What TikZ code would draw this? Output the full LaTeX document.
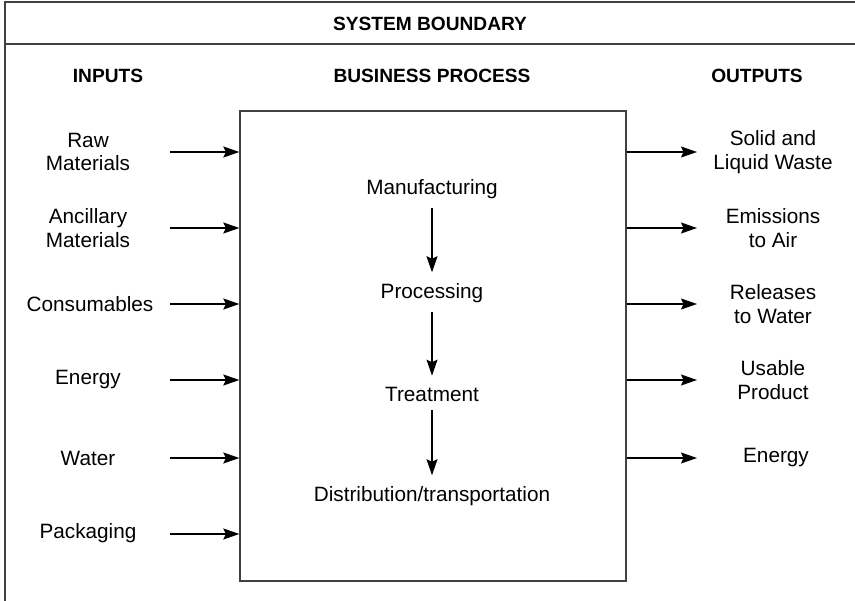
\documentclass[tikz,border=0pt]{standalone}
\usepackage{fontspec}
\setmainfont{Liberation Sans}
\usetikzlibrary{arrows.meta}

\begin{document}
\begin{tikzpicture}[x=0.02cm, y=-0.02cm,
  txt/.style={font=\fontsize{11.8}{13.4}\selectfont, align=center, inner sep=1pt},
  head/.style={font=\fontsize{10.9}{13}\selectfont\bfseries, inner sep=1pt},
  flow/.style={-{Stealth[length=3.2mm, width=2.2mm, inset=0.5mm]}, line width=0.8pt},
  step flow/.style={flow, shorten <=1.4mm, shorten >=1.8mm},
  edge/.style={line width=0.8pt, draw=black!75}]

  \useasboundingbox (0,0) rectangle (855,601);

  % --- Rahmen (Systemgrenze) ---
  \draw[edge] (855,2) -- (5,2) -- (5,601);
  \draw[edge] (5,44) -- (855,44);

  % --- Ueberschriften ---
  \node[head] (sysb) at (430,24) {SYSTEM BOUNDARY};
  \node[head] (hin)  at (108,76) {INPUTS};
  \node[head] (hbp)  at (432,76) {BUSINESS PROCESS};
  \node[head] (hout) at (757,76) {OUTPUTS};

  % --- Prozesskasten: x 240..626, y 111..581 ---
  \node[edge, draw, minimum width=7.72cm, minimum height=9.4cm] (proc) at (433,346) {};

  % --- Prozessschritte ---
  \node[txt] (mfg)  at (432,189) {Manufacturing};
  \node[txt] (prc)  at (432,293) {Processing};
  \node[txt] (trt)  at (432,394) {Treatment};
  \node[txt] (dist) at (432,496) {Distribution/transportation};
  \draw[step flow] (mfg.south) -- (prc.north);
  \draw[step flow] (prc.south) -- (trt.north);
  \draw[step flow] (trt.south) -- (dist.north);

  % --- Inputs ---
  \node[txt] (raw)  at (88,152) {Raw\\Materials};
  \node[txt] (anc)  at (88,228) {Ancillary\\Materials};
  \node[txt] (cons) at (90,304) {Consumables};
  \node[txt] (ein)  at (88,380) {Energy};
  \node[txt] (wat)  at (88,458) {Water};
  \node[txt] (pack) at (88,533) {Packaging};
  % Pfeile in den Kasten
  \coordinate (i1) at (170,152);
  \coordinate (i2) at (170,228);
  \coordinate (i3) at (170,304);
  \coordinate (i4) at (170,380);
  \coordinate (i5) at (170,458);
  \coordinate (i6) at (170,534);
  \draw[flow] (i1) -- (i1 -| proc.west);
  \draw[flow] (i2) -- (i2 -| proc.west);
  \draw[flow] (i3) -- (i3 -| proc.west);
  \draw[flow] (i4) -- (i4 -| proc.west);
  \draw[flow] (i5) -- (i5 -| proc.west);
  \draw[flow] (i6) -- (i6 -| proc.west);

  % --- Outputs ---
  \node[txt] (sol)  at (773,152) {Solid and\\Liquid Waste};
  \node[txt] (emi)  at (773,228) {Emissions\\to Air};
  \node[txt] (rel)  at (773,304) {Releases\\to Water};
  \node[txt] (use)  at (773,380) {Usable\\Product};
  \node[txt] (eout) at (776,458) {Energy};
  % Pfeile aus dem Kasten
  \coordinate (o1) at (697,152);
  \coordinate (o2) at (697,228);
  \coordinate (o3) at (697,304);
  \coordinate (o4) at (697,380);
  \coordinate (o5) at (697,458);
  \draw[flow] (o1 -| proc.east) -- (o1);
  \draw[flow] (o2 -| proc.east) -- (o2);
  \draw[flow] (o3 -| proc.east) -- (o3);
  \draw[flow] (o4 -| proc.east) -- (o4);
  \draw[flow] (o5 -| proc.east) -- (o5);

\end{tikzpicture}
\end{document}
